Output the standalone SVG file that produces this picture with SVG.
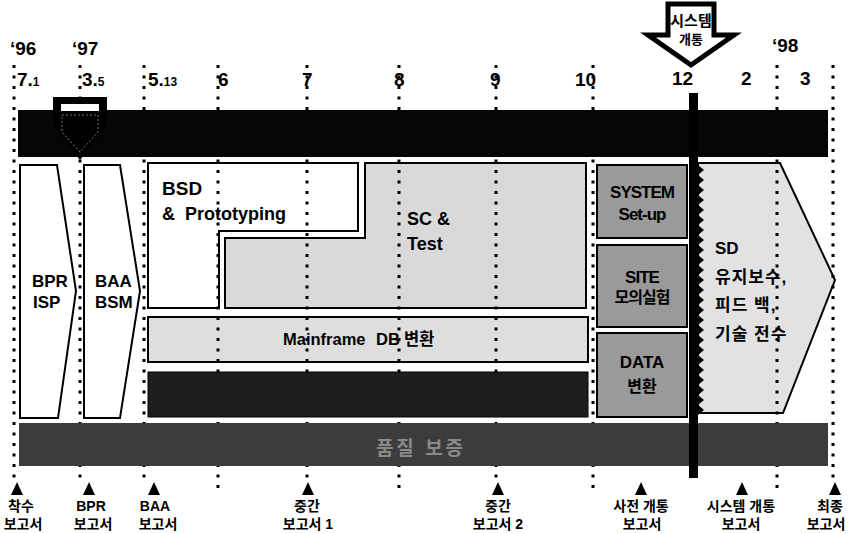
<svg xmlns="http://www.w3.org/2000/svg" width="851" height="533" viewBox="0 0 851 533">
<defs>
<style>
.lat{font-family:"Liberation Sans",Arial,sans-serif;font-weight:bold;fill:#000}
.kr{font-family:"Liberation Sans","Noto Sans CJK KR",sans-serif;font-weight:bold;fill:#000}
.dot{stroke:#000;stroke-width:3;stroke-dasharray:3 7.5;fill:none}
.box{stroke:#000;stroke-width:2}
.tri{fill:#000}
.lbl{font-family:"Liberation Sans","Noto Sans CJK KR",sans-serif;font-weight:bold;font-size:14px;fill:#000;text-anchor:middle}
</style>
</defs>
<rect width="851" height="533" fill="#fff"/>

<!-- year / month labels -->
<g id="timeline-labels">
<text class="lat" x="10" y="55" font-size="19">‘96</text>
<text class="lat" x="72" y="55" font-size="19">‘97</text>
<text class="lat" x="772" y="52" font-size="19">‘98</text>
<text class="lat" x="17" y="86" font-size="19">7.<tspan font-size="12">1</tspan></text>
<text class="lat" x="82" y="86" font-size="19">3.<tspan font-size="12">5</tspan></text>
<text class="lat" x="148" y="86" font-size="19">5.<tspan font-size="12">13</tspan></text>
<text class="lat" x="218" y="86" font-size="19">6</text>
<text class="lat" x="302" y="86" font-size="19">7</text>
<text class="lat" x="394" y="86" font-size="19">8</text>
<text class="lat" x="490" y="86" font-size="19">9</text>
<text class="lat" x="575" y="86" font-size="19">10</text>
<text class="lat" x="672" y="85" font-size="19">12</text>
<text class="lat" x="741" y="85" font-size="19">2</text>
<text class="lat" x="800" y="85" font-size="19">3</text>
</g>

<!-- light boxes -->
<g id="bpr-isp">
<polygon class="box" points="20,165 57,165 76,291 58,418 20,418" fill="#fff"/>
<text class="lat" x="32" y="287" font-size="17">BPR</text>
<text class="lat" x="33" y="308" font-size="17">ISP</text>
</g>
<g id="baa-bsm">
<polygon class="box" points="84,165 120,165 140,291 120,418 84,418" fill="#fff"/>
<text class="lat" x="95" y="287" font-size="17">BAA</text>
<text class="lat" x="95" y="308" font-size="17">BSM</text>
</g>
<g id="sc-test">
<path class="box" d="M365,163 H586 V308 H225 V238 H365 Z" fill="#d9d9d9"/>
<text class="lat" x="407" y="225" font-size="18">SC &amp;</text>
<text class="lat" x="407" y="250" font-size="18">Test</text>
</g>
<g id="bsd">
<path class="box" d="M148,163 H358 V231 H219 V308 H148 Z" fill="#fff"/>
<text class="lat" x="162" y="195" font-size="19">BSD</text>
<text class="lat" x="162" y="220" font-size="18" xml:space="preserve">&amp;  Prototyping</text>
</g>
<g id="mainframe-db">
<rect class="box" x="148" y="317" width="440" height="45" fill="#dedede"/>
<text class="kr" y="345" font-size="16.5"><tspan x="283">Mainframe</tspan><tspan x="376">DB</tspan><tspan x="404">변환</tspan></text>
</g>
<g id="system-setup">
<rect class="box" x="597" y="165" width="90" height="73" fill="#9a9a9a"/>
<text class="lat" x="642" y="198" font-size="17" text-anchor="middle" letter-spacing="-1">SYSTEM</text>
<text class="lat" x="642" y="220" font-size="17" text-anchor="middle" letter-spacing="-1">Set-up</text>
</g>
<g id="site">
<rect class="box" x="597" y="245" width="90" height="82" fill="#9a9a9a"/>
<text class="lat" x="642" y="283" font-size="17" text-anchor="middle" letter-spacing="-1">SITE</text>
<text class="kr" x="642" y="303" font-size="16" text-anchor="middle" letter-spacing="-1">모의실험</text>
</g>
<g id="data">
<rect class="box" x="597" y="333" width="90" height="84" fill="#9a9a9a"/>
<text class="lat" x="642" y="368" font-size="17" text-anchor="middle">DATA</text>
<text class="kr" x="642" y="392" font-size="16" text-anchor="middle">변환</text>
</g>
<g id="sd">
<polygon class="box" points="698,163 780,163 835,280 783,413 698,413" fill="#e2e2e2"/>
<text class="kr" x="715" y="254" font-size="17">SD</text>
<text class="kr" x="715" y="283" font-size="17" letter-spacing="1">유지보수,</text>
<text class="kr" x="715" y="311" font-size="17" letter-spacing="1">피드 백,</text>
<text class="kr" x="715" y="340" font-size="17" letter-spacing="1">기술 전수</text>
</g>

<!-- dotted grid lines -->
<g id="grid">
<line class="dot" x1="14" y1="65" x2="14" y2="478"/>
<line class="dot" x1="80" y1="65" x2="80" y2="480"/>
<line class="dot" x1="144" y1="65" x2="144" y2="480"/>
<line class="dot" x1="218" y1="65" x2="218" y2="492"/>
<line class="dot" x1="307" y1="65" x2="307" y2="478"/>
<line class="dot" x1="399" y1="65" x2="399" y2="492"/>
<line class="dot" x1="496" y1="65" x2="496" y2="478"/>
<line class="dot" x1="593" y1="65" x2="593" y2="492"/>
<line class="dot" x1="777" y1="65" x2="777" y2="492"/>
<line class="dot" x1="833" y1="65" x2="833" y2="478"/>
</g>

<!-- dark bars -->
<g id="top-bar">
<rect x="18" y="110" width="810" height="47" fill="#060606"/>
</g>
<g id="dark-bar">
<rect x="148" y="372" width="440" height="45" fill="#1e1e1e" stroke="#000" stroke-width="1"/>
</g>
<g id="quality-bar">
<rect x="19" y="423" width="809" height="43" fill="#3c3c3c"/>
<text class="kr" x="421" y="455" font-size="19" text-anchor="middle" style="fill:#8a8a8a" letter-spacing="3">품질 보증</text>
</g>

<!-- BPR marker -->
<g id="bpr-marker">
<polygon points="53,97 107,97 107,125 80,160 53,125" fill="#000"/>
<rect x="61" y="104" width="38" height="7" fill="#fff"/>
<polygon points="62,115 98,115 98,132 80,152 62,132" fill="none" stroke="#777" stroke-width="1" stroke-dasharray="2 2"/>
</g>

<!-- system open arrow and cut-over line -->
<g id="system-open">
<polygon points="668,4 714,4 714,35 734,35 691,65 648,35 668,35" fill="#fff" stroke="#000" stroke-width="5" stroke-linejoin="miter"/>
<text class="kr" x="691" y="26" font-size="15" text-anchor="middle">시스템</text>
<text class="kr" x="691" y="44" font-size="13" text-anchor="middle">개통</text>
</g>
<g id="connectors">
<rect x="689" y="93" width="9" height="385" fill="#000"/>
<path d="M698,165 l6,5 l-6,5 l6,5 l-6,5 l6,5 l-6,5 l6,5 l-6,5 l6,5 l-6,5 l6,5 l-6,5 l6,5 l-6,5 l6,5 l-6,5 l6,5 l-6,5 l6,5 l-6,5 l6,5 l-6,5 l6,5 l-6,5 l6,5 l-6,5 l6,5 l-6,5 l6,5 l-6,5 l6,5 l-6,5 l6,5 l-6,5 l6,5 l-6,5 l6,5 l-6,5 l6,5 l-6,5 l6,5 l-6,5 l6,5 l-6,5 l6,5 l-6,5 l6,5 l-6,5 l6,5 l-6,5 Z" fill="#000"/>
</g>

<!-- milestones -->
<g id="milestones">
<polygon class="tri" points="17,482 11,495 23,495"/>
<polygon class="tri" points="89,482 83,495 95,495"/>
<polygon class="tri" points="154,482 148,495 160,495"/>
<polygon class="tri" points="308,482 302,495 314,495"/>
<polygon class="tri" points="498,482 492,495 504,495"/>
<polygon class="tri" points="641,482 635,495 647,495"/>
<polygon class="tri" points="742,482 736,495 748,495"/>
<polygon class="tri" points="835,482 829,495 841,495"/>
<text class="lbl" x="21" y="511">착수</text><text class="lbl" x="23" y="529">보고서</text>
<text class="lbl" x="91" y="511">BPR</text><text class="lbl" x="93" y="529">보고서</text>
<text class="lbl" x="155" y="511">BAA</text><text class="lbl" x="158" y="529">보고서</text>
<text class="lbl" x="307" y="511">중간</text><text class="lbl" x="308" y="529">보고서 1</text>
<text class="lbl" x="498" y="511">중간</text><text class="lbl" x="498" y="529">보고서 2</text>
<text class="lbl" x="641" y="511">사전 개통</text><text class="lbl" x="642" y="529">보고서</text>
<text class="lbl" x="741" y="511">시스템 개통</text><text class="lbl" x="741" y="529">보고서</text>
<text class="lbl" x="830" y="511">최종</text><text class="lbl" x="826" y="529">보고서</text>
</g>
</svg>
